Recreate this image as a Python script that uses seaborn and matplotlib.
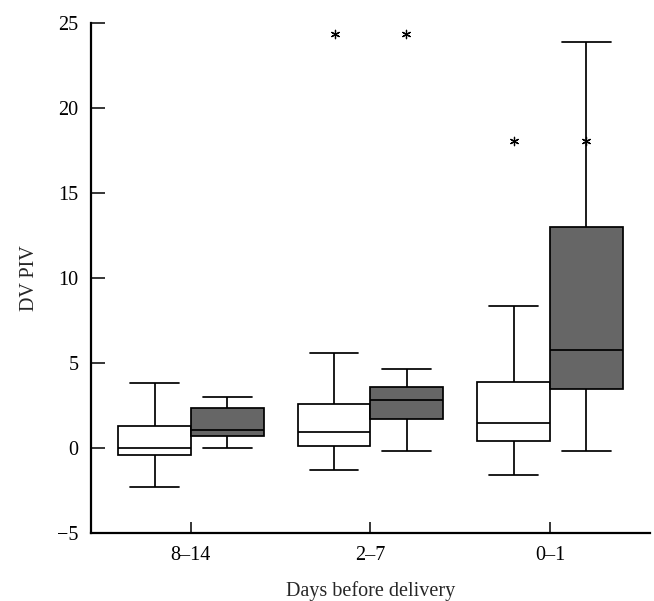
import numpy as np
import pandas as pd
import matplotlib
matplotlib.use("Agg")
import matplotlib.pyplot as plt
import seaborn as sns

# ---- data (five-number summaries) ----
categories = ["8–14", "2–7", "0–1"]
groups = ["Group A", "Group B"]

white_low = [-2.27, -1.29, -1.61]
white_q1 = [-0.39, 0.12, 0.41]
white_med = [0.02, 0.96, 1.49]
white_q3 = [1.29, 2.59, 3.90]
white_high = [3.80, 5.58, 8.37]

gray_low = [0.00, -0.20, -0.20]
gray_q1 = [0.71, 1.69, 3.49]
gray_med = [1.06, 2.82, 5.74]
gray_q3 = [2.37, 3.57, 13.01]
gray_high = [2.98, 4.66, 23.87]

outlier_cat = ["2–7", "2–7", "0–1", "0–1"]
outlier_grp = ["Group A", "Group B", "Group A", "Group B"]
outlier_val = [24.34, 24.34, 18.08, 18.08]

yticks = [-5, 0, 5, 10, 15, 20, 25]

# ---- build long table ----
rows = []
for i, c in enumerate(categories):
    for v in (white_low[i], white_q1[i], white_med[i], white_q3[i], white_high[i]):
        rows.append((c, groups[0], v))
    for v in (gray_low[i], gray_q1[i], gray_med[i], gray_q3[i], gray_high[i]):
        rows.append((c, groups[1], v))
df = pd.DataFrame(rows, columns=["days", "group", "piv"])
out_df = pd.DataFrame({"days": outlier_cat, "group": outlier_grp, "piv": outlier_val})

sns.set_style("white")
plt.rcParams["font.family"] = ["Liberation Serif", "DejaVu Serif"]

fig = plt.figure(figsize=(6.54, 6.01), dpi=100)
ax = fig.add_axes([0.139, 0.113, 0.855, 0.849])

width = 0.81
sns.boxplot(data=df, x="days", y="piv", hue="group", order=categories,
            hue_order=groups, palette=["white", "#666666"], saturation=1,
            width=width, gap=0, whis=(0, 100), showfliers=False,
            linecolor="black", linewidth=1.25, legend=False, ax=ax)

# widen whisker caps
box_w = width / 2
for ln in ax.lines:
    xd = np.asarray(ln.get_xdata(), dtype=float)
    yd = np.asarray(ln.get_ydata(), dtype=float)
    if len(xd) == 2 and yd[0] == yd[1]:
        span = abs(xd[1] - xd[0])
        if span < 0.75 * box_w:
            cx = xd.mean()
            half = 0.335 * box_w
            ln.set_xdata([cx - half, cx + half])

sns.stripplot(data=out_df, x="days", y="piv", hue="group", order=categories,
              hue_order=groups, dodge=True, jitter=False,
              palette=["black", "black"], marker=(6, 2, 0), size=6,
              linewidth=0.9, edgecolor="black", legend=False, ax=ax)

ax.set_xlim(-0.557, 2.557)
ax.set_ylim(-5, 25)
ax.set_yticks(yticks)
ax.set_xlabel("Days before delivery", fontsize=14.5, labelpad=12)
ax.set_ylabel("DV PIV", fontsize=14.5, labelpad=13)

for side in ("top", "right"):
    ax.spines[side].set_visible(False)
for side in ("left", "bottom"):
    ax.spines[side].set_linewidth(1.6)
    ax.spines[side].set_color("black")

ax.tick_params(axis="y", left=True, direction="in", length=10, width=1.1,
               labelsize=14.5, pad=9, colors="black")
ax.tick_params(axis="x", bottom=True, direction="in", length=8, width=1.1,
               labelsize=14.5, pad=9, colors="black")

fig.savefig("out.png", dpi=100)
